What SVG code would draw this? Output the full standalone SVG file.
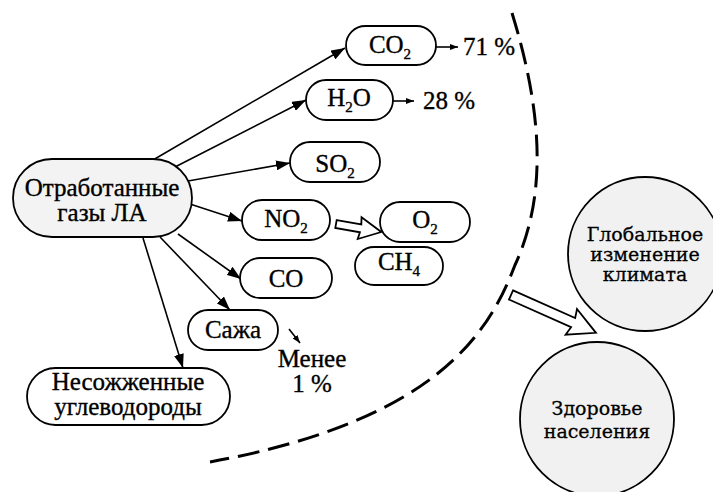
<svg xmlns="http://www.w3.org/2000/svg" width="713" height="492" viewBox="0 0 713 492">
<style>
.pill{fill:#ffffff;stroke:#000;stroke-width:1.8}
.main{fill:#f3f3f3;stroke:#000;stroke-width:1.8}
.circ{fill:#f1f1f1;stroke:#000;stroke-width:1.8}
.t{font-family:"Liberation Serif","Times New Roman",serif;font-size:25px;fill:#000;stroke:#000;stroke-width:0.35;text-anchor:middle}
.c{font-family:"DejaVu Serif",serif;font-size:19px;fill:#000;stroke:#000;stroke-width:0.3;text-anchor:middle}
.sub{font-size:15px}
.ln{stroke:#000;stroke-width:1.6;fill:none}
.hollow{fill:#fff;stroke:#000;stroke-width:1.8;stroke-linejoin:miter}
.dash{fill:none;stroke:#000;stroke-width:3;stroke-dasharray:22 9}
</style>
<defs>
<marker id="ah" markerUnits="userSpaceOnUse" markerWidth="14" markerHeight="10" refX="14" refY="5" orient="auto">
<path d="M0,0 L14,5 L0,10 z" fill="#000"/>
</marker>
<marker id="ahs" markerUnits="userSpaceOnUse" markerWidth="8" markerHeight="6" refX="8" refY="3" orient="auto">
<path d="M0,0 L8,3 L0,6 z" fill="#000"/>
</marker>
</defs>

<path class="dash" d="M512,13 C545,120 545,200 515,265 C490,330 440,420 210,462"/>

<g id="connectors">
<line class="ln" x1="153" y1="160" x2="345" y2="48" marker-end="url(#ah)"/>
<line class="ln" x1="175" y1="167" x2="306" y2="100" marker-end="url(#ah)"/>
<line class="ln" x1="188" y1="181" x2="290" y2="163" marker-end="url(#ah)"/>
<line class="ln" x1="190" y1="204" x2="242" y2="221" marker-end="url(#ah)"/>
<line class="ln" x1="178" y1="234" x2="241" y2="279" marker-end="url(#ah)"/>
<line class="ln" x1="160" y1="237" x2="230" y2="310" marker-end="url(#ah)"/>
<line class="ln" x1="143" y1="238" x2="183" y2="368" marker-end="url(#ah)"/>
<line class="ln" x1="436" y1="47" x2="458" y2="47" marker-end="url(#ahs)"/>
<line class="ln" x1="393" y1="101" x2="414" y2="101" marker-end="url(#ahs)"/>
<line class="ln" x1="289" y1="329" x2="300" y2="343" marker-end="url(#ahs)"/>
<polygon class="hollow" transform="translate(336,224) rotate(10)" points="0,-4 25,-4 24,-11 46,0 24,11 25,4 0,4"/>
<polygon class="hollow" transform="translate(511,295) rotate(24)" points="0,-5 68,-5 66,-14 93,0 66,14 68,5 0,5"/>
</g>

<g id="exhaust">
<rect class="main" x="13" y="159" width="179" height="78" rx="39"/>
<text class="t" x="102" y="196" font-size="24">Отработанные</text>
<text class="t" x="102" y="221" font-size="24">газы ЛА</text>
</g>
<g id="co2">
<rect class="pill" x="346" y="26" width="90" height="39" rx="19.5"/>
<text class="t" x="390" y="53">CO<tspan class="sub" dy="6">2</tspan></text>
</g>
<g id="h2o">
<rect class="pill" x="306" y="80" width="87" height="40" rx="20"/>
<text class="t" x="349" y="106">H<tspan class="sub" dy="6">2</tspan><tspan dy="-6">O</tspan></text>
</g>
<g id="so2">
<rect class="pill" x="290" y="142" width="90" height="40" rx="20"/>
<text class="t" x="335" y="172">SO<tspan class="sub" dy="6">2</tspan></text>
</g>
<g id="no2">
<rect class="pill" x="242" y="200" width="88" height="40" rx="20"/>
<text class="t" x="286" y="227">NO<tspan class="sub" dy="6">2</tspan></text>
</g>
<g id="o2">
<rect class="pill" x="380" y="202" width="90" height="40" rx="20"/>
<text class="t" x="425" y="228">O<tspan class="sub" dy="6">2</tspan></text>
</g>
<g id="ch4">
<rect class="pill" x="355" y="247" width="88" height="38" rx="19"/>
<text class="t" x="399" y="270">CH<tspan class="sub" dy="6">4</tspan></text>
</g>
<g id="co">
<rect class="pill" x="240" y="258" width="92" height="40" rx="20"/>
<text class="t" x="286" y="287">CO</text>
</g>
<g id="soot">
<rect class="pill" x="188" y="310" width="90" height="40" rx="20"/>
<text class="t" x="233" y="338">Сажа</text>
</g>
<g id="unburned">
<rect class="pill" x="27" y="368" width="203" height="57" rx="28.5"/>
<text class="t" x="128" y="390" font-size="24">Несожженные</text>
<text class="t" x="128" y="415" font-size="24">углеводороды</text>
</g>
<g id="labels">
<text class="t" x="489" y="55">71 %</text>
<text class="t" x="449" y="109">28 %</text>
<text class="t" x="312" y="367">Менее</text>
<text class="t" x="312" y="392">1 %</text>
</g>
<g id="climate">
<circle class="circ" cx="645" cy="254" r="77"/>
<text class="c" x="645" y="241">Глобальное</text>
<text class="c" x="645" y="261">изменение</text>
<text class="c" x="645" y="281">климата</text>
</g>
<g id="health">
<circle class="circ" cx="597" cy="419" r="77"/>
<text class="c" x="597" y="415">Здоровье</text>
<text class="c" x="597" y="438">населения</text>
</g>
</svg>
